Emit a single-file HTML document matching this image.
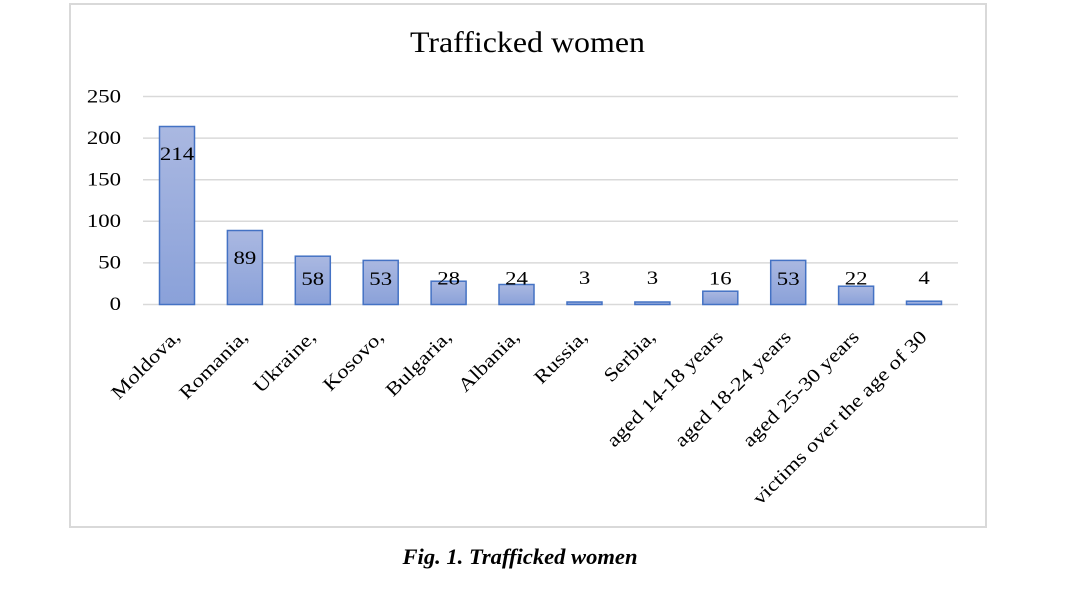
<!DOCTYPE html>
<html>
<head>
<meta charset="utf-8">
<style>
html,body{margin:0;padding:0;background:#fff;}
svg{display:block;}
text{font-family:"Liberation Serif","Times New Roman",serif;fill:#000;}
</style>
</head>
<body>
<svg width="1074" height="591" viewBox="0 0 1074 591" xmlns="http://www.w3.org/2000/svg">
<defs>
<linearGradient id="g" x1="0" y1="0" x2="0" y2="1">
<stop offset="0" stop-color="#aab8e1"/>
<stop offset="1" stop-color="#8aa1d9"/>
</linearGradient>
</defs>
<rect x="70" y="4" width="916" height="523" fill="#fff" stroke="#d9d9d9" stroke-width="2"/>
<text x="527.5" y="52" font-size="30" text-anchor="middle" textLength="235" lengthAdjust="spacingAndGlyphs">Trafficked women</text>

<g stroke="#d9d9d9" stroke-width="1.5">
<line x1="143" y1="96.5" x2="958" y2="96.5"/>
<line x1="143" y1="138.1" x2="958" y2="138.1"/>
<line x1="143" y1="179.7" x2="958" y2="179.7"/>
<line x1="143" y1="221.3" x2="958" y2="221.3"/>
<line x1="143" y1="262.9" x2="958" y2="262.9"/>
<line x1="143" y1="304.5" x2="958" y2="304.5"/>
</g>

<g font-size="19" text-anchor="end">
<text transform="translate(121,102.5) scale(1.2,1)">250</text>
<text transform="translate(121,144) scale(1.2,1)">200</text>
<text transform="translate(121,185.5) scale(1.2,1)">150</text>
<text transform="translate(121,227) scale(1.2,1)">100</text>
<text transform="translate(121,268.5) scale(1.2,1)">50</text>
<text transform="translate(121,310) scale(1.2,1)">0</text>
</g>

<g fill="url(#g)" stroke="#4472c4" stroke-width="1.5">
<rect x="159.5" y="126.5" width="35" height="178"/>
<rect x="227.4" y="230.5" width="35" height="74"/>
<rect x="295.3" y="256.2" width="35" height="48.3"/>
<rect x="363.2" y="260.4" width="35" height="44.1"/>
<rect x="431.1" y="281.2" width="35" height="23.3"/>
<rect x="499" y="284.5" width="35" height="20"/>
<rect x="567" y="302" width="35" height="2.5"/>
<rect x="634.9" y="302" width="35" height="2.5"/>
<rect x="702.8" y="291.2" width="35" height="13.3"/>
<rect x="770.7" y="260.4" width="35" height="44.1"/>
<rect x="838.6" y="286.2" width="35" height="18.3"/>
<rect x="906.5" y="301.2" width="35" height="3.3"/>
</g>

<g font-size="19" text-anchor="middle">
<text transform="translate(177,160) scale(1.2,1)">214</text>
<text transform="translate(244.9,264) scale(1.2,1)">89</text>
<text transform="translate(312.8,285) scale(1.2,1)">58</text>
<text transform="translate(380.7,285) scale(1.2,1)">53</text>
<text transform="translate(448.6,284.5) scale(1.2,1)">28</text>
<text transform="translate(516.5,284.5) scale(1.2,1)">24</text>
<text transform="translate(584.5,284) scale(1.2,1)">3</text>
<text transform="translate(652.4,284) scale(1.2,1)">3</text>
<text transform="translate(720.3,284.5) scale(1.2,1)">16</text>
<text transform="translate(788.2,285) scale(1.2,1)">53</text>
<text transform="translate(856.1,284.5) scale(1.2,1)">22</text>
<text transform="translate(924,284) scale(1.2,1)">4</text>
</g>

<g font-size="19" text-anchor="end">
<text transform="translate(181,338) rotate(-45) scale(1.2,1)">Moldova,</text>
<text transform="translate(248.9,338) rotate(-45) scale(1.2,1)">Romania,</text>
<text transform="translate(316.8,338) rotate(-45) scale(1.2,1)">Ukraine,</text>
<text transform="translate(384.7,338) rotate(-45) scale(1.2,1)">Kosovo,</text>
<text transform="translate(452.6,338) rotate(-45) scale(1.2,1)">Bulgaria,</text>
<text transform="translate(520.5,338) rotate(-45) scale(1.2,1)">Albania,</text>
<text transform="translate(588.5,338) rotate(-45) scale(1.2,1)">Russia,</text>
<text transform="translate(656.4,338) rotate(-45) scale(1.2,1)">Serbia,</text>
<text transform="translate(724.3,338) rotate(-45) scale(1.2,1)">aged 14-18 years</text>
<text transform="translate(792.2,338) rotate(-45) scale(1.2,1)">aged 18-24 years</text>
<text transform="translate(860.1,338) rotate(-45) scale(1.2,1)">aged 25-30 years</text>
<text transform="translate(928,338) rotate(-45) scale(1.2,1)">victims over the age of 30</text>
</g>

<text x="520" y="564" font-size="22" font-weight="bold" font-style="italic" text-anchor="middle" textLength="235" lengthAdjust="spacingAndGlyphs">Fig. 1. Trafficked women</text>
</svg>
</body>
</html>
